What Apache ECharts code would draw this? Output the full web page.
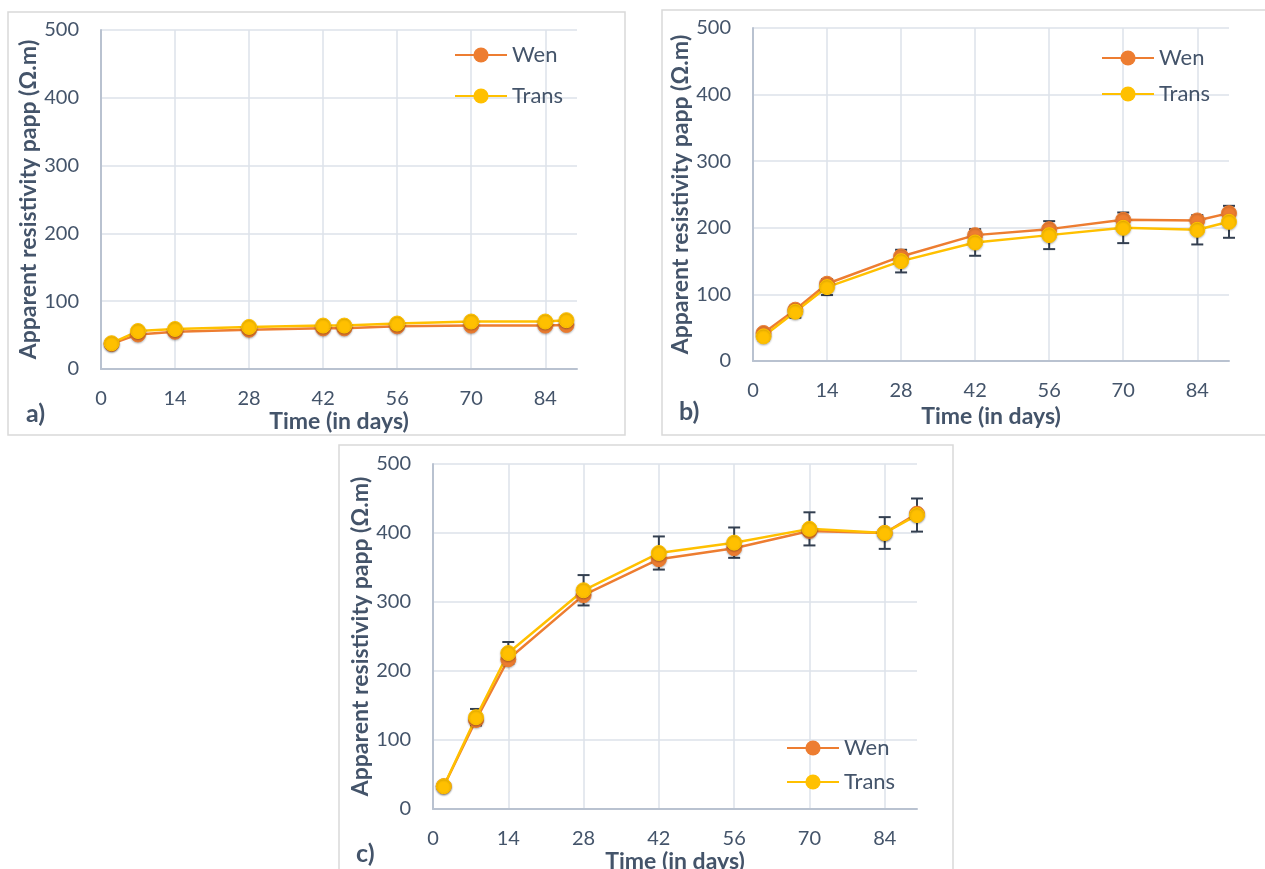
<!DOCTYPE html>
<html>
<head>
<meta charset="utf-8">
<script src="https://cdn.jsdelivr.net/npm/echarts@6/dist/echarts.min.js"></script>
<style>
html,body{margin:0;padding:0;background:#fff;}
#chart{width:1265px;height:869px;}
</style>
</head>
<body>
<div id="chart"></div>
<script>
// ---- data ----
const xTicks = [0, 14, 28, 42, 56, 70, 84];
const yTicks = [0, 100, 200, 300, 400, 500];

const daysA  = [2, 7, 14, 28, 42, 46, 56, 70, 84, 88];
const wenA   = [37, 51, 55, 58, 60, 60, 63, 64, 64, 65];
const transA = [38, 56, 59, 62, 64, 64, 67, 70, 70, 72];
const errA   = [2, 3, 3, 3, 3, 3, 3, 3, 3, 3];

const daysB  = [2, 8, 14, 28, 42, 56, 70, 84, 90];
const wenB   = [42, 77, 116, 157, 189, 198, 212, 211, 222];
const transB = [37, 74, 111, 150, 178, 189, 200, 197, 209];
const errB   = [6, 9, 12, 17, 20, 21, 23, 22, 24];

const daysC  = [2, 8, 14, 28, 42, 56, 70, 84, 90];
const wenC   = [33, 129, 217, 310, 362, 378, 403, 400, 428];
const transC = [33, 133, 226, 317, 371, 386, 406, 400, 426];
const errC   = [3, 12, 16, 22, 24, 22, 24, 23, 24];

const seriesNames = ['Wen', 'Trans'];
const panelLabels = ['a)', 'b)', 'c)'];

// ---- styles ----
const WEN = '#ED7D31', TRANS = '#FFC000', ERR = '#333F50';
const TXT = '#44546A';
const FONT = 'Lato';

const grids = [
  {left: 101, top: 30, width: 476, height: 339, outerBoundsMode: 'none', containLabel: false},
  {left: 753, top: 28, width: 476, height: 333, outerBoundsMode: 'none', containLabel: false},
  {left: 433, top: 464, width: 484, height: 345, outerBoundsMode: 'none', containLabel: false}
];
const xNameGaps = [37, 44, 37];
const yNameGaps = [60, 61, 60];

function xAxis(i){
  return {
    type: 'value', gridIndex: i, min: 0, max: 90, interval: 14,
    name: 'Time (in days)', nameLocation: 'middle', nameGap: xNameGaps[i],
    nameTextStyle: {fontFamily: FONT, fontWeight: 'bold', fontSize: 23, color: TXT},
    axisLine: {show: true, lineStyle: {color: '#B9C2D0', width: 2}},
    axisTick: {show: false},
    axisLabel: {
      fontFamily: FONT, fontSize: 20, color: TXT, margin: 20,
      formatter: v => (xTicks.indexOf(v) >= 0 ? String(v) : '')
    },
    splitLine: {show: true, showMaxLine: false, lineStyle: {color: '#DDE2EA', width: 1.5}}
  };
}
function yAxis(i){
  return {
    type: 'value', gridIndex: i, min: yTicks[0], max: yTicks[yTicks.length-1], interval: 100,
    name: 'Apparent resistivity papp (Ω.m)', nameLocation: 'middle', nameGap: yNameGaps[i],
    nameTextStyle: {fontFamily: FONT, fontWeight: 'bold', fontSize: 23, color: TXT},
    axisLine: {show: true, lineStyle: {color: '#B9C2D0', width: 2}},
    axisTick: {show: false},
    axisLabel: {fontFamily: FONT, fontSize: 20, color: TXT, margin: 22},
    splitLine: {show: true, lineStyle: {color: '#DDE2EA', width: 1.5}}
  };
}
function lineSeries(name, color, days, vals, i){
  return {
    name: name, type: 'line', xAxisIndex: i, yAxisIndex: i,
    data: days.map((d, k) => [d, vals[k]]),
    symbol: 'circle', symbolSize: 15, z: 3,
    lineStyle: {color: color, width: 2.5},
    itemStyle: {color: color, borderColor: color, shadowColor: 'rgba(0,0,0,0.25)', shadowBlur: 2, shadowOffsetY: 1}
  };
}
function errSeries(days, vals, errs, i){
  return {
    name: 'err' + i, type: 'custom', xAxisIndex: i, yAxisIndex: i, z: 1,
    data: days.map((d, k) => [d, vals[k] - errs[k], vals[k] + errs[k]]),
    renderItem: function(params, api){
      const lo = api.coord([api.value(0), api.value(1)]);
      const hi = api.coord([api.value(0), api.value(2)]);
      const hw = 6;
      const st = {stroke: ERR, lineWidth: 2};
      return {type: 'group', children: [
        {type: 'line', shape: {x1: lo[0], y1: lo[1], x2: hi[0], y2: hi[1]}, style: st},
        {type: 'line', shape: {x1: lo[0]-hw, y1: lo[1], x2: lo[0]+hw, y2: lo[1]}, style: st},
        {type: 'line', shape: {x1: hi[0]-hw, y1: hi[1], x2: hi[0]+hw, y2: hi[1]}, style: st}
      ]};
    }
  };
}
function legend(left, top, gap){
  return {
    data: seriesNames, orient: 'vertical', left: left, top: top,
    itemWidth: 52, itemHeight: 19, itemGap: gap,
    textStyle: {fontFamily: FONT, fontSize: 22, color: TXT, lineHeight: 22},
    selectedMode: false
  };
}

const chart = echarts.init(document.getElementById('chart'), null, {renderer: 'canvas'});
chart.setOption({
  backgroundColor: '#fff',
  animation: false,
  grid: grids,
  xAxis: [xAxis(0), xAxis(1), xAxis(2)],
  yAxis: [yAxis(0), yAxis(1), yAxis(2)],
  legend: [legend(449, 39, 19), legend(1096, 42, 14), legend(781, 732, 12)],
  series: [
    errSeries(daysA, transA, errA, 0),
    lineSeries('Wen', WEN, daysA, wenA, 0),
    lineSeries('Trans', TRANS, daysA, transA, 0),
    errSeries(daysB, transB, errB, 1),
    lineSeries('Wen', WEN, daysB, wenB, 1),
    lineSeries('Trans', TRANS, daysB, transB, 1),
    errSeries(daysC, transC, errC, 2),
    lineSeries('Wen', WEN, daysC, wenC, 2),
    lineSeries('Trans', TRANS, daysC, transC, 2)
  ],
  graphic: [
    {type: 'rect', shape: {x: 8, y: 12, width: 617, height: 423}, style: {fill: 'none', stroke: '#D9D9D9', lineWidth: 1.5}, z: -1},
    {type: 'rect', shape: {x: 662, y: 10, width: 620, height: 425}, style: {fill: 'none', stroke: '#D9D9D9', lineWidth: 1.5}, z: -1},
    {type: 'rect', shape: {x: 339, y: 445, width: 614, height: 440}, style: {fill: 'none', stroke: '#D9D9D9', lineWidth: 1.5}, z: -1},
    {type: 'text', left: 26, top: 401, style: {text: panelLabels[0], font: 'bold 25px Lato', fill: TXT}},
    {type: 'text', left: 679, top: 399, style: {text: panelLabels[1], font: 'bold 25px Lato', fill: TXT}},
    {type: 'text', left: 356, top: 841, style: {text: panelLabels[2], font: 'bold 25px Lato', fill: TXT}}
  ]
});
</script>
</body>
</html>
